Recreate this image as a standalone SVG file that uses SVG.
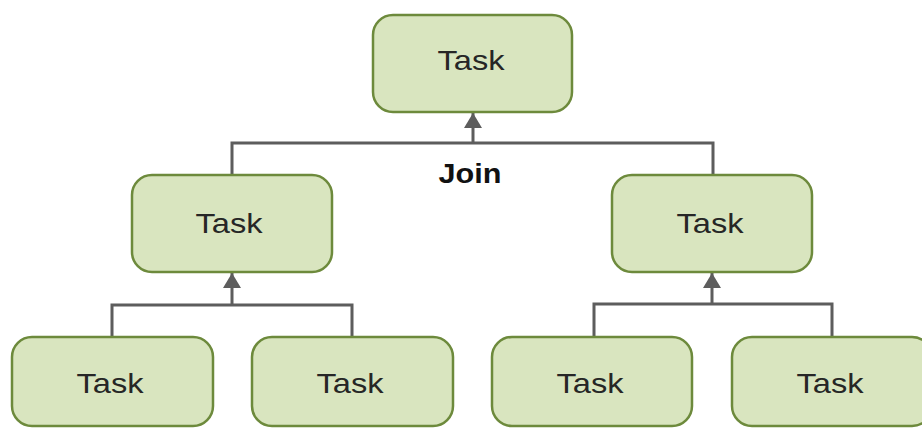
<svg xmlns="http://www.w3.org/2000/svg" width="922" height="429" viewBox="0 0 922 429">
<style>
.box{fill:#d9e5bf;stroke:#6d8a3c;stroke-width:2.5}
.lbl{font-family:"Liberation Sans",Arial,sans-serif;font-size:28px;fill:#262626;text-anchor:middle}
.conn{fill:none;stroke:#5d5d5d;stroke-width:3}
.join{font-family:"Liberation Sans",Arial,sans-serif;font-size:27px;font-weight:bold;fill:#111;text-anchor:middle}
</style>
<defs>
<marker id="ah" markerWidth="5" markerHeight="6" refX="5" refY="3" orient="auto" markerUnits="strokeWidth">
<path d="M0,0 L5,3 L0,6 Z" fill="#5d5d5d"/>
</marker>
</defs>
<rect width="922" height="429" fill="#ffffff"/>
<g id="connectors">
<path class="conn" d="M232,175 V143 H713 V175"/>
<path class="conn" d="M473,143 V113" marker-end="url(#ah)"/>
<path class="conn" d="M112,337 V305 H352 V337"/>
<path class="conn" d="M232,305 V273" marker-end="url(#ah)"/>
<path class="conn" d="M594,337 V304 H832 V337"/>
<path class="conn" d="M712,304 V273" marker-end="url(#ah)"/>
</g>
<text class="join" x="470" y="183" textLength="63" lengthAdjust="spacingAndGlyphs">Join</text>
<g id="task-top">
<rect class="box" x="373" y="15" width="199" height="97" rx="20"/>
<text class="lbl" x="471" y="70" textLength="67" lengthAdjust="spacingAndGlyphs">Task</text>
</g>
<g id="task-mid-left">
<rect class="box" x="132" y="175" width="200" height="97" rx="20"/>
<text class="lbl" x="229" y="233" textLength="67" lengthAdjust="spacingAndGlyphs">Task</text>
</g>
<g id="task-mid-right">
<rect class="box" x="612" y="175" width="200" height="97" rx="20"/>
<text class="lbl" x="710" y="233" textLength="67" lengthAdjust="spacingAndGlyphs">Task</text>
</g>
<g id="task-bot-1">
<rect class="box" x="12" y="337" width="201" height="89" rx="20"/>
<text class="lbl" x="110" y="393" textLength="67" lengthAdjust="spacingAndGlyphs">Task</text>
</g>
<g id="task-bot-2">
<rect class="box" x="252" y="337" width="201" height="89" rx="20"/>
<text class="lbl" x="350" y="393" textLength="67" lengthAdjust="spacingAndGlyphs">Task</text>
</g>
<g id="task-bot-3">
<rect class="box" x="492" y="337" width="200" height="89" rx="20"/>
<text class="lbl" x="590" y="393" textLength="67" lengthAdjust="spacingAndGlyphs">Task</text>
</g>
<g id="task-bot-4">
<rect class="box" x="732" y="337" width="200" height="89" rx="20"/>
<text class="lbl" x="830" y="393" textLength="67" lengthAdjust="spacingAndGlyphs">Task</text>
</g>
</svg>
